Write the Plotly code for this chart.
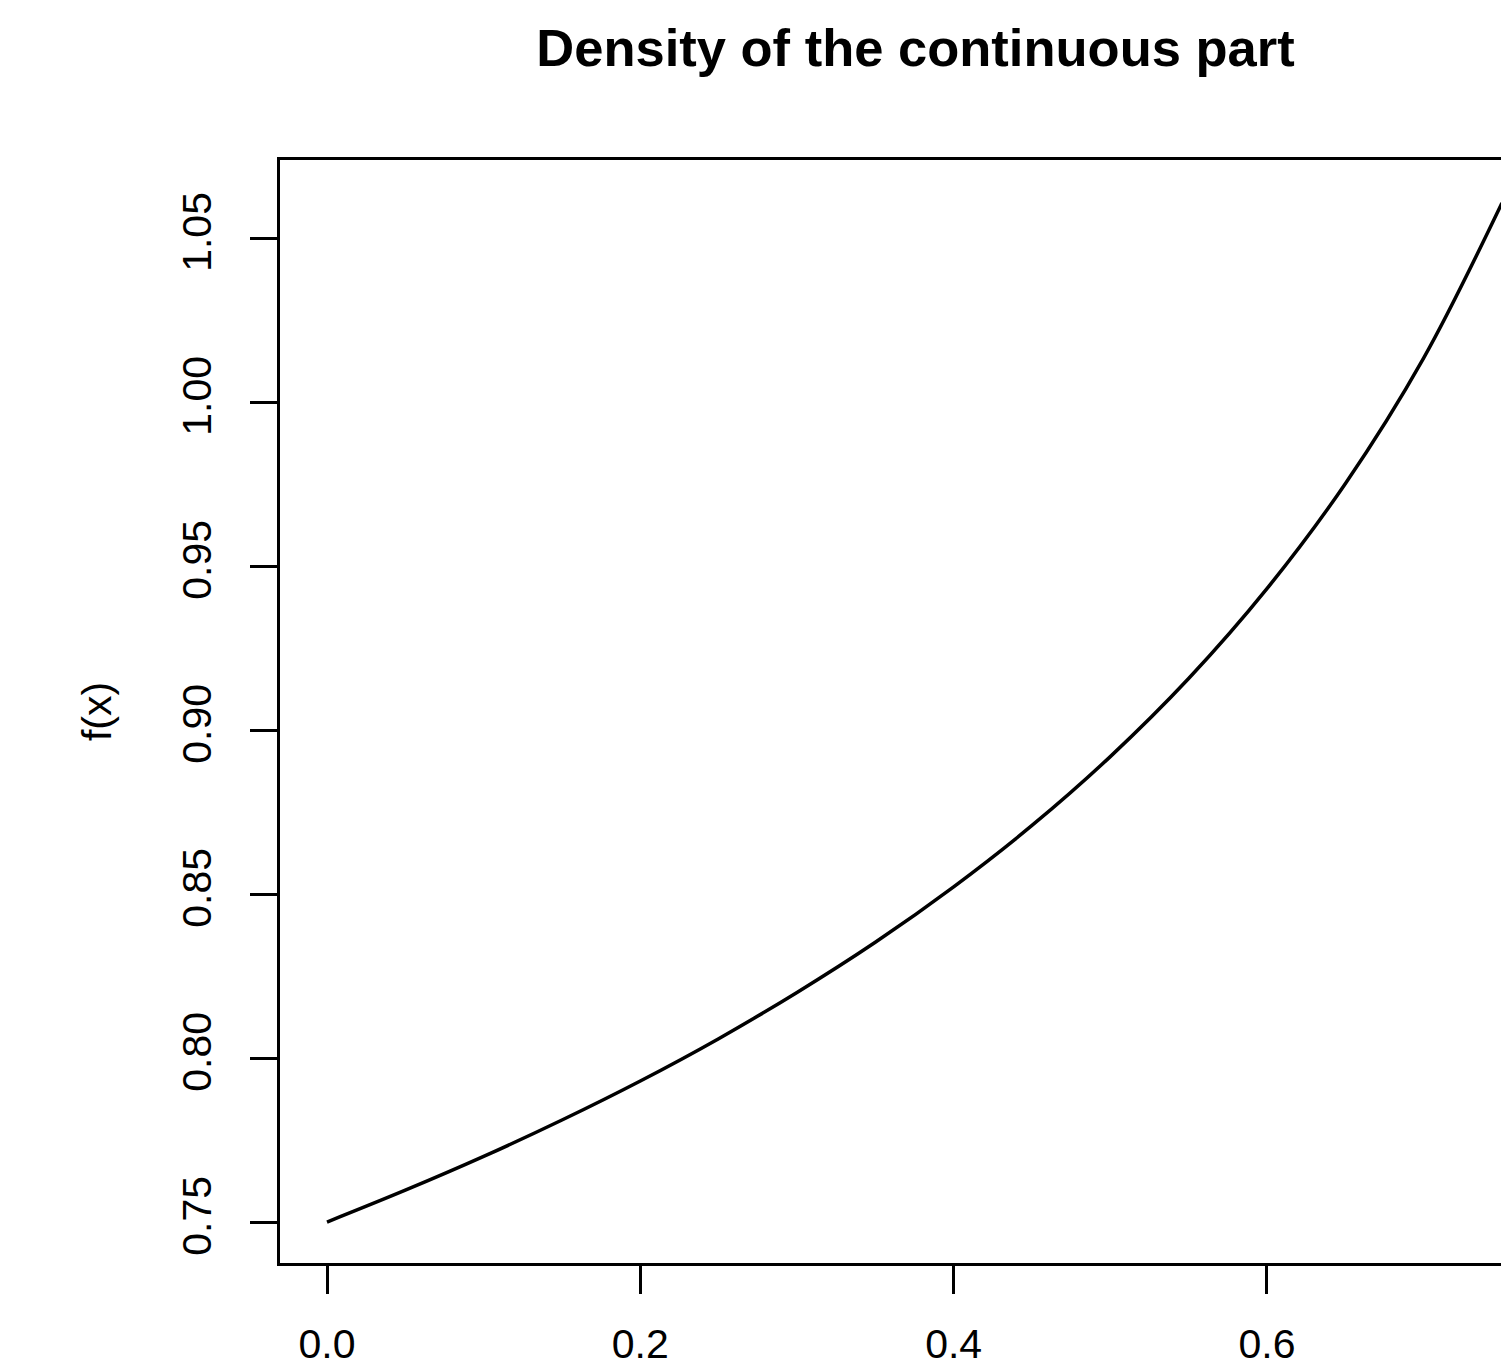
import plotly.graph_objects as go

# Values
x_vals = [0.00, 0.05, 0.10, 0.15, 0.20, 0.25, 0.30, 0.35, 0.40, 0.45,
          0.50, 0.55, 0.60, 0.65, 0.70, 0.75]
f_vals = [0.7500, 0.7597, 0.7700, 0.7811, 0.7930, 0.8059, 0.8200, 0.8353,
          0.8522, 0.8709, 0.8919, 0.9157, 0.9431, 0.9751, 1.0134, 1.0607]

x_ticks = [0.0, 0.2, 0.4, 0.6]
x_tick_labels = ["0.0", "0.2", "0.4", "0.6"]
y_ticks = [0.75, 0.80, 0.85, 0.90, 0.95, 1.00, 1.05]
y_tick_labels = ["0.75", "0.80", "0.85", "0.90", "0.95", "1.00", "1.05"]

title_text = "Density of the continuous part"
y_label = "f(x)"

# page has an 8px body margin, so the figure is offset by 8px
OFF = 8
W, H = 1509 - OFF, 1367 - OFF
FONT = "Liberation Sans, Arial, Helvetica, sans-serif"

fig = go.Figure()
fig.add_trace(go.Scatter(
    x=x_vals, y=f_vals, mode="lines",
    line=dict(color="black", width=3.5, shape="spline"),
    hoverinfo="skip", showlegend=False,
))

fig.update_layout(
    width=W, height=H,
    margin=dict(l=280 - OFF, r=0, t=160 - OFF, b=1367 - 1263, pad=0),
    paper_bgcolor="white", plot_bgcolor="white",
    font=dict(family=FONT, color="black", size=41),
    title=dict(
        text="<b>" + title_text + "</b>",
        font=dict(family=FONT, size=52.5, color="black"),
        xref="container", x=(915.5 - OFF) / W, xanchor="center",
        yref="container", y=1 - 40 / H, yanchor="middle",
    ),
    showlegend=False,
)

fig.update_xaxes(
    range=[-0.0300, 0.7545],
    automargin=False,
    tickmode="array", tickvals=x_ticks, ticktext=x_tick_labels,
    ticks="outside", ticklen=28, tickwidth=2.5, tickcolor="black",
    showline=True, linecolor="black", linewidth=3, mirror=True,
    showgrid=False, zeroline=False,
    tickfont=dict(family=FONT, size=41, color="black"),
    ticklabelstandoff=15,
)
fig.update_yaxes(
    range=[0.7375, 1.0738],
    automargin=False,
    tickmode="array", tickvals=y_ticks, ticktext=y_tick_labels,
    ticks="outside", ticklen=27, tickwidth=2.5, tickcolor="black",
    showline=True, linecolor="black", linewidth=3, mirror=False,
    showgrid=False, zeroline=False,
    tickangle=-90,
    tickfont=dict(family=FONT, size=41, color="black"),
    ticklabelstandoff=23,
    title=dict(text=y_label, font=dict(family=FONT, size=41, color="black"), standoff=50),
)

fig.write_html("out.html")
